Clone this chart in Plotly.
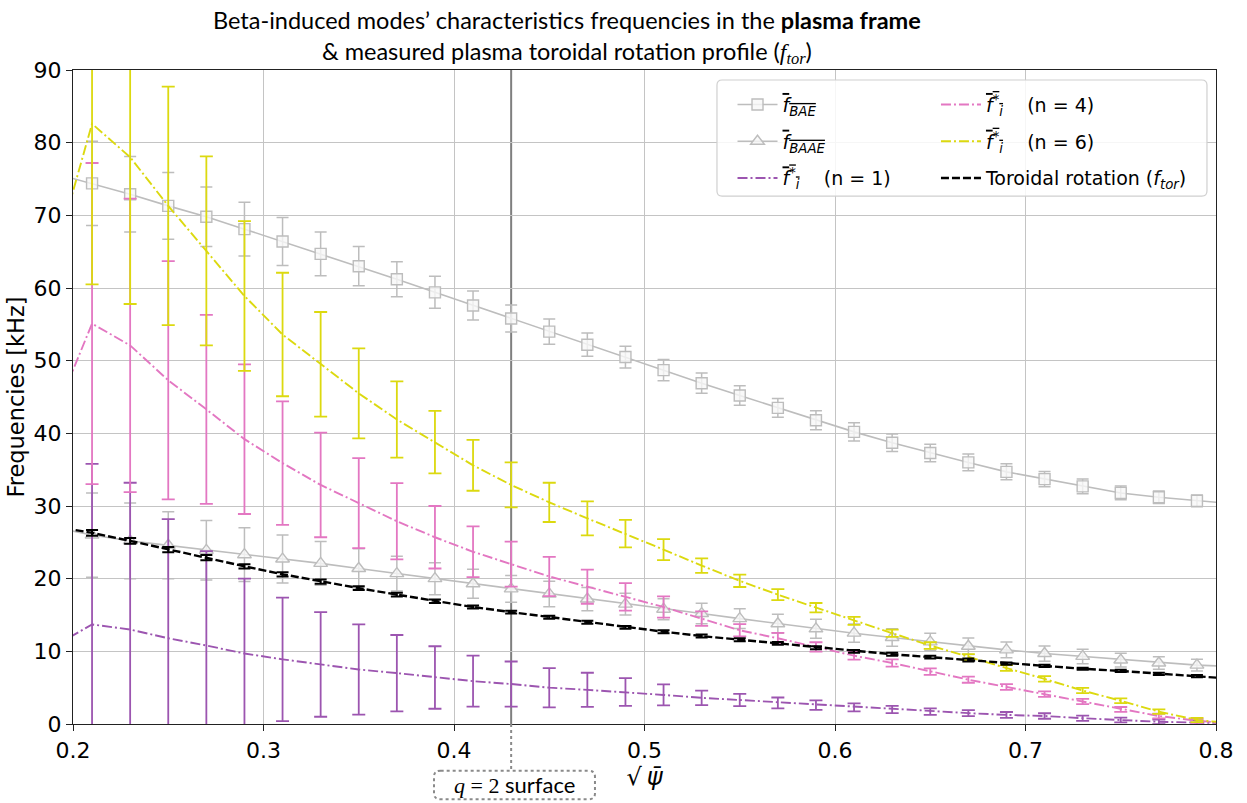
import plotly.graph_objects as go

# Radial coordinate sqrt(psi_bar); the outermost points sit just outside the axis range
rho = [0.19, 0.21, 0.23, 0.25, 0.27, 0.29, 0.31, 0.33, 0.35, 0.37, 0.39,
       0.41, 0.43, 0.45, 0.47, 0.49, 0.51, 0.53, 0.55, 0.57, 0.59, 0.61,
       0.63, 0.65, 0.67, 0.69, 0.71, 0.73, 0.75, 0.77, 0.79, 0.81]

# Beta-induced Alfven eigenmode frequency (kHz)
f_bae = [75.8, 74.4, 72.9, 71.3, 69.8, 68.1, 66.4, 64.7, 63.0, 61.2, 59.4,
         57.6, 55.8, 54.0, 52.2, 50.5, 48.7, 46.9, 45.2, 43.5, 41.8, 40.2,
         38.7, 37.3, 36.0, 34.7, 33.7, 32.7, 31.8, 31.2, 30.7, 30.3]
# Beta-induced Alfven acoustic eigenmode frequency (kHz)
f_baae = [27.1, 26.0, 25.2, 24.6, 23.9, 23.3, 22.7, 22.1, 21.4, 20.7, 20.0,
          19.3, 18.6, 17.9, 17.2, 16.5, 15.8, 15.2, 14.5, 13.8, 13.1, 12.5,
          11.9, 11.3, 10.7, 10.2, 9.7, 9.3, 8.8, 8.4, 8.1, 7.9]
# Shared uncertainty of the two gap frequencies (kHz)
err_gap = [6.3, 5.8, 5.2, 4.6, 4.1, 3.7, 3.3, 3.0, 2.7, 2.4, 2.2,
           2.0, 1.85, 1.75, 1.6, 1.5, 1.45, 1.4, 1.35, 1.3, 1.3, 1.25,
           1.2, 1.2, 1.15, 1.1, 1.05, 1.0, 0.95, 0.85, 0.8, 0.75]

# Ion diamagnetic frequency for toroidal mode numbers n = 1, 4, 6 (kHz)
f_star_n1 = [10.7, 13.7, 13.0, 11.8, 10.8, 9.7, 8.9, 8.2, 7.5, 7.0, 6.4,
             5.9, 5.5, 5.0, 4.7, 4.4, 4.0, 3.6, 3.3, 2.9, 2.6, 2.3,
             2.0, 1.7, 1.5, 1.25, 1.1, 0.8, 0.55, 0.3, 0.2, 0.1]
f_star_n4 = [42.3, 55.1, 52.1, 47.3, 43.3, 39.2, 35.9, 32.9, 30.4, 27.9, 25.7,
             23.7, 22.0, 20.3, 18.9, 17.5, 16.1, 14.5, 12.9, 11.8, 10.6, 9.4,
             8.4, 7.2, 6.1, 5.1, 4.1, 3.1, 2.0, 1.1, 0.45, 0.0]
f_star_n6 = [64.0, 82.6, 78.0, 71.3, 65.1, 58.9, 53.6, 49.5, 45.5, 41.9, 38.8,
             35.6, 32.9, 30.5, 28.3, 26.2, 24.0, 21.8, 19.7, 17.8, 16.0, 14.2,
             12.5, 10.8, 9.2, 7.7, 6.2, 4.6, 3.2, 1.7, 0.55, 0.05]
err_star = [23.0, 22.1, 20.2, 16.4, 13.0, 10.3, 8.5, 7.2, 6.2, 5.25, 4.3,
            3.5, 3.1, 2.7, 2.35, 1.9, 1.45, 1.0, 0.85, 0.75, 0.65, 0.55,
            0.5, 0.45, 0.42, 0.4, 0.38, 0.36, 0.34, 0.32, 0.3, 0.3]

# Measured toroidal rotation frequency (kHz)
f_tor = [27.2, 26.3, 25.2, 24.0, 22.9, 21.7, 20.6, 19.6, 18.7, 17.8, 16.9,
         16.1, 15.4, 14.7, 14.0, 13.3, 12.7, 12.1, 11.6, 11.1, 10.5, 10.0,
         9.6, 9.2, 8.8, 8.3, 8.0, 7.6, 7.3, 6.9, 6.6, 6.2]
err_tor = [0.4, 0.4, 0.4, 0.35, 0.35, 0.3, 0.3, 0.3, 0.25, 0.25, 0.25,
           0.2, 0.2, 0.2, 0.2, 0.2, 0.2, 0.2, 0.2, 0.2, 0.2, 0.2,
           0.2, 0.2, 0.2, 0.15, 0.15, 0.15, 0.15, 0.15, 0.15, 0.15]

q2_surface = 0.43
x_ticks = [0.2, 0.3, 0.4, 0.5, 0.6, 0.7, 0.8]
y_ticks = [0, 10, 20, 30, 40, 50, 60, 70, 80, 90]

GRAY = "#bdbdbd"
PURPLE = "#9c55b0"
PINK = "#e377c2"
YELLOW = "#dcd90f"
SANS = "DejaVu Sans"
TITLE_FONT = "Lato"
MATH = "Liberation Serif"
DASHDOT = "10px,3px,2px,3px"

OVL = '<span style="text-decoration:overline">{}</span>'
lbl_bae = OVL.format("<i>f</i><sub><i>BAE</i></sub>")
lbl_baae = OVL.format("<i>f</i><sub><i>BAAE</i></sub>")
lbl_star = OVL.format("<i>f</i><sup>*</sup><sub><i>i</i></sub>")
gap = "\u00a0\u00a0\u00a0\u00a0"

fig = go.Figure()


def err(arr, color, thick, width):
    return dict(type="data", array=arr, visible=True, color=color,
                thickness=thick, width=width)


fig.add_trace(go.Scatter(
    x=rho, y=f_bae, mode="lines+markers", name=lbl_bae, legend="legend",
    legendgroup="a",
    line=dict(color=GRAY, width=1.6),
    marker=dict(symbol="square", size=11, color="rgba(248,248,248,0.8)",
                line=dict(color=GRAY, width=1.4)),
    error_y=err(err_gap, GRAY, 1.5, 6)))
fig.add_trace(go.Scatter(
    x=rho, y=f_baae, mode="lines+markers", name=lbl_baae, legend="legend",
    legendgroup="b",
    line=dict(color=GRAY, width=1.6),
    marker=dict(symbol="triangle-up", size=12, color="rgba(248,248,248,0.8)",
                line=dict(color=GRAY, width=1.4)),
    error_y=err(err_gap, GRAY, 1.5, 6)))
fig.add_trace(go.Scatter(
    x=rho, y=f_star_n1, mode="lines", name=lbl_star + gap + "(n = 1)",
    legend="legend", legendgroup="c",
    line=dict(color=PURPLE, width=1.9, dash=DASHDOT),
    error_y=err(err_star, PURPLE, 1.8, 6.5)))
fig.add_trace(go.Scatter(
    x=rho, y=f_star_n4, mode="lines", name=lbl_star + gap + "(n = 4)",
    legend="legend2", legendgroup="d",
    line=dict(color=PINK, width=1.9, dash=DASHDOT),
    error_y=err(err_star, PINK, 1.8, 6.5)))
fig.add_trace(go.Scatter(
    x=rho, y=f_star_n6, mode="lines", name=lbl_star + gap + "(n = 6)",
    legend="legend2", legendgroup="e",
    line=dict(color=YELLOW, width=1.9, dash=DASHDOT),
    error_y=err(err_star, YELLOW, 1.8, 6.5)))
fig.add_trace(go.Scatter(
    x=rho, y=f_tor, mode="lines",
    name="Toroidal rotation (<i>f</i><sub><i>tor</i></sub>)",
    legend="legend2", legendgroup="f",
    line=dict(color="black", width=2.4, dash="8px,3px"),
    error_y=err(err_tor, "black", 2, 6)))

# q = 2 surface marker: solid inside the axes, dotted leader down to a label box
fig.add_shape(type="line", xref="x", yref="y", x0=q2_surface, x1=q2_surface,
              y0=0, y1=90, line=dict(color="#7f7f7f", width=2), layer="below")
box_top, box_bot = -0.0714, -0.1151
fig.add_shape(type="line", xref="x", yref="paper", x0=q2_surface, x1=q2_surface,
              y0=0, y1=box_top, line=dict(color="#8a8a8a", width=2, dash="dot"))
bx0, bx1 = q2_surface - 0.0405, q2_surface + 0.044
rx, ry = 0.0035, 0.009
box_path = (f"M {bx0 + rx},{box_top} L {bx1 - rx},{box_top} "
            f"Q {bx1},{box_top} {bx1},{box_top - ry} L {bx1},{box_bot + ry} "
            f"Q {bx1},{box_bot} {bx1 - rx},{box_bot} L {bx0 + rx},{box_bot} "
            f"Q {bx0},{box_bot} {bx0},{box_bot + ry} L {bx0},{box_top - ry} "
            f"Q {bx0},{box_top} {bx0 + rx},{box_top} Z")
fig.add_shape(type="path", xref="x", yref="paper", path=box_path,
              line=dict(color="#8a8a8a", width=2, dash="dot"),
              fillcolor="white")
fig.add_annotation(
    xref="x", yref="paper", x=(bx0 + bx1) / 2, y=(box_top + box_bot) / 2,
    text=(f'<span style="font-family:{MATH}"><i>q</i> = 2</span> surface'),
    showarrow=False, xanchor="center", yanchor="middle",
    font=dict(family=TITLE_FONT, size=22, color="black"))

# Rounded frame behind the two legend columns
lx0, lx1, ly0, ly1 = 0.5634, 0.9921, 0.8073, 0.9847
rxl, ryl = 0.0045, 0.0078
leg_path = (f"M {lx0 + rxl},{ly1} L {lx1 - rxl},{ly1} "
            f"Q {lx1},{ly1} {lx1},{ly1 - ryl} L {lx1},{ly0 + ryl} "
            f"Q {lx1},{ly0} {lx1 - rxl},{ly0} L {lx0 + rxl},{ly0} "
            f"Q {lx0},{ly0} {lx0},{ly0 + ryl} L {lx0},{ly1 - ryl} "
            f"Q {lx0},{ly1} {lx0 + rxl},{ly1} Z")
fig.add_shape(type="path", xref="paper", yref="paper", path=leg_path,
              line=dict(color="#d0d0d0", width=1.2),
              fillcolor="rgba(255,255,255,0.85)", layer="above")

fig.add_annotation(
    xref="paper", yref="paper", x=0.432, y=1.0, yshift=66,
    xanchor="center", yanchor="top", showarrow=False,
    text=("Beta-induced modes\u2019 characteristics frequencies in the "
          "<b>plasma frame</b><br>& measured plasma toroidal rotation profile "
          f'(<span style="font-family:{MATH}"><i>f</i><sub><i>tor</i></sub></span>)'),
    font=dict(family=TITLE_FONT, size=23.5, color="black"))

legend_common = dict(
    bgcolor="rgba(0,0,0,0)", borderwidth=0,
    font=dict(family=SANS, size=19, color="black"),
    yanchor="top", xanchor="left", tracegroupgap=9, itemwidth=40,
    orientation="v")

fig.update_layout(
    width=1247, height=803,
    margin=dict(l=73, r=31, t=70, b=79),
    paper_bgcolor="white", plot_bgcolor="white",
    showlegend=True,
    legend=dict(x=0.577, y=0.976, **legend_common),
    legend2=dict(x=0.755, y=0.976, **legend_common),
    xaxis=dict(
        range=[0.2, 0.8], tickvals=x_ticks, ticktext=[f"{v:.1f}" for v in x_ticks],
        showgrid=True, gridcolor="#c4c4c4", gridwidth=1.2,
        showline=True, linecolor="#222", linewidth=1.3, mirror=True,
        ticks="outside", ticklen=6, tickwidth=1.3, tickcolor="#222",
        tickfont=dict(family=SANS, size=22, color="black"),
        zeroline=False,
        title=dict(text="\u221a\u202f<i>\u03c8\u0304</i>",
                   font=dict(family=SANS, size=24, color="black"), standoff=4)),
    yaxis=dict(
        range=[0, 90], tickvals=y_ticks,
        showgrid=True, gridcolor="#c4c4c4", gridwidth=1.2,
        showline=True, linecolor="#222", linewidth=1.3, mirror=True,
        ticks="outside", ticklen=6, tickwidth=1.3, tickcolor="#222",
        tickfont=dict(family=SANS, size=22, color="black"),
        zeroline=False,
        title=dict(text="Frequencies [kHz]",
                   font=dict(family=SANS, size=22.5, color="black"), standoff=2)),
)

fig.write_html("out.html")
